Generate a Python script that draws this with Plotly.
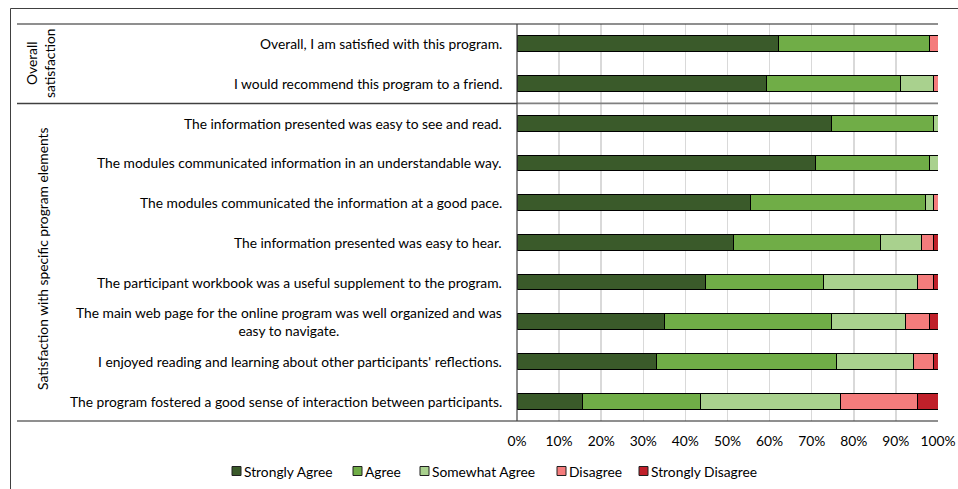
import plotly.graph_objects as go

# ---------------- data ----------------
categories = [
    "Overall, I am satisfied with this program.",
    "I would recommend this program to a friend.",
    "The information presented was easy to see and read.",
    "The modules communicated information in an understandable way.",
    "The modules communicated the information at a good pace.",
    "The information presented was easy to hear.",
    "The participant workbook was a useful supplement to the program.",
    "The main web page for the online program was well organized and was<br>easy to navigate.",
    "I enjoyed reading and learning about other participants' reflections.",
    "The program fostered a good sense of interaction between participants.",
]
group_labels = ["Overall<br>satisfaction", "Satisfaction with specific program elements"]
series_names = ["Strongly Agree", "Agree", "Somewhat Agree", "Disagree", "Strongly Disagree"]
strongly_agree = [62.0, 59.3, 74.8, 70.8, 55.4, 51.5, 44.7, 35.0, 33.1, 15.5]
agree = [36.0, 31.9, 24.2, 27.1, 41.7, 34.9, 28.1, 39.8, 42.7, 28.2]
somewhat_agree = [0.0, 7.8, 1.0, 2.1, 1.9, 9.7, 22.3, 17.4, 18.3, 33.1]
disagree = [2.0, 1.0, 0.0, 0.0, 1.0, 2.9, 3.9, 5.8, 4.9, 18.3]
strongly_disagree = [0.0, 0.0, 0.0, 0.0, 0.0, 1.0, 1.0, 2.0, 1.0, 4.9]
tick_values = [0, 10, 20, 30, 40, 50, 60, 70, 80, 90, 100]
tick_labels = ["0%", "10%", "20%", "30%", "40%", "50%", "60%", "70%", "80%", "90%", "100%"]

series_values = [strongly_agree, agree, somewhat_agree, disagree, strongly_disagree]
colors = ["#3a5a2a", "#70ad47", "#a9d18e", "#f47c7c", "#c0202a"]

# ---------------- layout geometry (page pixels) ----------------
W, H = 958, 489
PL, PR, PT, PB = 517, 938, 24, 421       # plot area in page pixels
FONT = "Lato, Carlito, 'Liberation Sans', sans-serif"
FS = 13.8


def px2x(px):
    return (px - PL) / (PR - PL)


def py2y(py):
    return (PB - py) / (PB - PT)


fig = go.Figure()
for name, vals, col in zip(series_names, series_values, colors):
    fig.add_trace(go.Bar(
        y=categories, x=vals, name=name, orientation="h",
        marker=dict(color=col, line=dict(color="#000000", width=1)),
        width=0.4, showlegend=False,
    ))

annotations = []
# category labels
for c in categories:
    annotations.append(dict(
        x=px2x(504), xref="paper", y=c, yref="y", text=c,
        xanchor="right", yanchor="middle", align="center", showarrow=False,
        font=dict(family=FONT, size=FS, color="#000000"),
    ))
# group labels
annotations.append(dict(
    x=px2x(40), xref="paper", y=py2y(64), yref="paper", text=group_labels[0],
    textangle=-90, xanchor="center", yanchor="middle", align="center", showarrow=False,
    font=dict(family=FONT, size=FS, color="#000000"),
))
annotations.append(dict(
    x=px2x(42), xref="paper", y=py2y(259), yref="paper", text=group_labels[1],
    textangle=-90, xanchor="center", yanchor="middle", showarrow=False,
    font=dict(family=FONT, size=FS, color="#000000"),
))

shapes = []
# outer frame
shapes.append(dict(type="rect", xref="paper", yref="paper",
                   x0=px2x(10.5), x1=px2x(W + 5), y0=py2y(H + 5), y1=py2y(8.5),
                   line=dict(color="#404040", width=1)))
# table lines
shapes.append(dict(type="line", xref="paper", yref="paper", x0=px2x(17), x1=1,
                   y0=1, y1=1, line=dict(color="#202020", width=1.2)))
shapes.append(dict(type="line", xref="paper", yref="paper", x0=px2x(17), x1=1,
                   y0=0, y1=0, line=dict(color="#202020", width=1.2)))
shapes.append(dict(type="line", xref="paper", yref="y", x0=px2x(17), x1=0,
                   y0=1.5, y1=1.5, line=dict(color="#404040", width=1.5)))
shapes.append(dict(type="line", xref="paper", yref="y", x0=0, x1=1,
                   y0=1.5, y1=1.5, line=dict(color="#808080", width=1.8)))
shapes.append(dict(type="line", xref="paper", yref="paper", x0=0, x1=0,
                   y0=0, y1=1, line=dict(color="#404040", width=1.2)))

# manual legend
legend_left = [232, 353, 420, 557, 639]
leg_y = 471
for name, col, lx in zip(series_names, colors, legend_left):
    shapes.append(dict(type="rect", xref="paper", yref="paper",
                       x0=px2x(lx), x1=px2x(lx + 9), y0=py2y(leg_y + 4.5), y1=py2y(leg_y - 4.5),
                       fillcolor=col, line=dict(color="#202020", width=1)))
    annotations.append(dict(
        x=px2x(lx + 10), xref="paper", y=py2y(leg_y), yref="paper", text=name,
        xanchor="left", yanchor="middle", showarrow=False,
        font=dict(family=FONT, size=FS, color="#000000"),
    ))

fig.update_layout(
    barmode="stack",
    width=W, height=H,
    autosize=False,
    margin=dict(l=PL, r=W - PR, t=PT, b=H - PB, pad=0, autoexpand=False),
    paper_bgcolor="#ffffff", plot_bgcolor="#ffffff",
    font=dict(family=FONT, size=FS, color="#000000"),
    xaxis=dict(range=[0, 100], tickvals=tick_values, ticktext=tick_labels,
               showgrid=True, gridcolor="#d9d9d9", gridwidth=1.5, automargin=False,
               zeroline=False, showline=False, ticks="", ticklabelstandoff=10,
               tickfont=dict(family=FONT, size=FS, color="#000000"), fixedrange=True),
    yaxis=dict(type="category", categoryorder="array", categoryarray=categories,
               autorange="reversed", showticklabels=False, showgrid=False, automargin=False,
               zeroline=False, showline=False, ticks="", fixedrange=True),
    shapes=shapes, annotations=annotations, showlegend=False,
)

fig.write_html(
    "out.html",
    config={"displayModeBar": False, "staticPlot": True},
    post_script="document.body.style.margin='0';document.body.style.overflow='hidden';",
)
